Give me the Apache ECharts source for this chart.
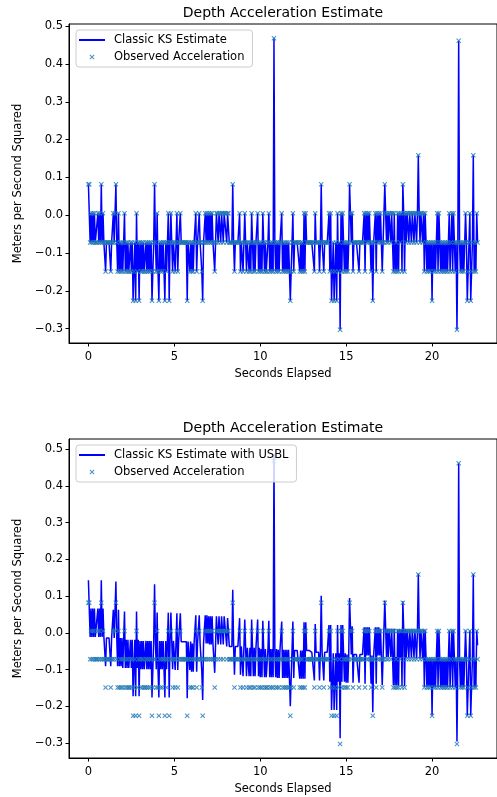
<!DOCTYPE html>
<html><head><meta charset="utf-8">
<script src="https://cdn.jsdelivr.net/npm/echarts@6/dist/echarts.min.js"></script>
<style>html,body{margin:0;padding:0;background:#fff}#chart{width:497px;height:797px}</style>
</head><body><div id="chart"></div>
<script>
// Sampling of the recorded series (seconds)
const sampleStart = 0;
const sampleStep = 0.05;

// Observed depth acceleration (m/s^2), one value per sample
const observedAccel = [
0.082,0.082,-0.072,0.005,-0.072,0.005,-0.072,0.005,-0.072,-0.072,-0.072,0.005,-0.072,0.005,-0.072,0.082,-0.072,0.005,-0.072,-0.072,
-0.149,-0.072,-0.072,-0.072,-0.072,-0.072,-0.149,-0.072,-0.072,0.005,-0.072,0.005,0.082,-0.072,-0.149,0.005,-0.149,-0.072,-0.149,-0.072,
-0.149,-0.072,0.005,-0.149,-0.072,-0.149,-0.072,-0.149,-0.149,-0.072,-0.149,-0.072,-0.226,-0.149,-0.072,-0.226,0.005,-0.149,-0.072,-0.226,
-0.072,-0.149,-0.072,-0.149,-0.072,-0.149,-0.149,-0.072,-0.149,-0.072,-0.149,-0.072,-0.149,-0.072,-0.226,-0.149,-0.072,0.082,-0.072,-0.149,
0.005,-0.149,-0.226,-0.072,-0.149,-0.072,-0.149,-0.072,-0.072,-0.226,-0.072,-0.149,-0.072,0.005,-0.226,-0.072,0.005,-0.072,-0.149,-0.072,
-0.072,-0.149,-0.072,0.005,-0.149,-0.072,-0.072,0.005,-0.072,-0.072,-0.072,-0.072,-0.072,-0.072,-0.072,-0.226,-0.072,-0.072,-0.149,-0.072,
-0.149,-0.072,-0.149,-0.072,-0.072,0.005,-0.149,-0.072,-0.072,0.005,-0.072,-0.072,-0.149,-0.226,-0.072,-0.072,0.005,-0.072,0.005,-0.072,
0.005,-0.072,0.005,-0.072,0.005,-0.072,-0.072,-0.149,-0.072,0.005,0.005,-0.072,0.005,0.005,-0.072,0.005,0.005,-0.072,0.005,0.005,
0.005,-0.072,0.005,0.005,-0.072,-0.072,-0.072,-0.072,0.082,-0.072,-0.149,-0.072,-0.072,-0.072,-0.072,-0.072,0.005,-0.149,-0.072,-0.072,
-0.149,-0.072,0.005,-0.072,-0.149,-0.072,-0.072,-0.149,-0.072,-0.149,0.005,-0.072,-0.149,-0.072,-0.149,-0.072,-0.072,0.005,-0.149,-0.072,
-0.149,-0.072,-0.149,0.005,-0.072,-0.149,-0.072,-0.149,-0.149,-0.072,0.005,-0.149,-0.072,-0.149,-0.072,-0.149,0.468,-0.072,-0.149,-0.072,
-0.149,-0.072,-0.149,-0.072,-0.072,0.005,-0.149,-0.072,-0.149,-0.072,-0.149,-0.072,-0.149,-0.072,-0.149,-0.226,-0.149,-0.072,0.005,-0.149,
-0.072,-0.072,-0.072,-0.072,-0.072,-0.072,-0.149,-0.072,-0.149,-0.072,-0.149,0.005,-0.149,0.005,-0.072,-0.072,-0.072,-0.072,-0.072,-0.072,
-0.072,-0.072,-0.072,-0.149,0.005,-0.072,-0.072,-0.072,-0.072,-0.149,-0.072,0.082,-0.072,-0.072,-0.149,-0.072,-0.072,-0.072,-0.072,-0.072,
0.005,-0.149,0.005,-0.226,-0.149,-0.072,-0.226,-0.149,-0.072,-0.226,0.005,-0.149,-0.072,-0.303,0.005,-0.149,0.005,-0.072,-0.149,-0.072,
-0.149,-0.072,-0.149,-0.072,0.082,0.005,-0.072,0.005,-0.149,-0.072,-0.072,-0.072,-0.072,-0.072,-0.072,-0.149,-0.072,-0.072,-0.072,-0.072,
-0.072,0.005,-0.149,0.005,-0.072,0.005,-0.072,0.005,-0.072,-0.149,-0.072,-0.226,-0.072,-0.072,0.005,-0.149,0.005,-0.072,0.005,-0.072,
0.005,-0.072,-0.149,-0.072,-0.072,0.082,0.005,-0.072,0.005,-0.072,0.005,0.005,-0.072,0.005,0.005,-0.149,0.005,-0.149,-0.072,-0.149,
0.005,-0.149,0.005,-0.072,0.005,-0.149,0.082,0.005,-0.149,0.005,-0.072,0.005,0.005,-0.072,0.005,0.005,-0.072,0.005,0.005,-0.072,
0.005,0.005,-0.072,0.005,0.159,0.005,-0.072,0.005,0.005,-0.072,0.005,-0.149,0.005,-0.072,-0.149,-0.072,-0.149,-0.072,-0.149,-0.072,
-0.226,-0.072,-0.149,-0.072,-0.149,-0.072,0.005,-0.149,0.005,-0.072,-0.149,-0.072,-0.149,-0.072,-0.149,-0.072,-0.149,-0.072,-0.149,-0.072,
0.005,-0.149,-0.072,0.005,-0.149,0.005,-0.072,-0.149,-0.072,-0.303,-0.072,0.462,-0.072,-0.149,-0.072,-0.149,-0.072,-0.149,-0.072,0.005,
-0.072,-0.226,-0.149,-0.072,0.005,-0.226,-0.149,-0.072,0.159,-0.149,-0.072,-0.149,0.005,-0.072
];

// Classic KS estimate (follows the observations)
const ksEstimate = observedAccel;

// Classic KS estimate with USBL, one value per sample
const usblEstimate = [
0.143,0.143,-0.011,0.066,-0.011,0.066,-0.011,0.066,-0.011,-0.011,-0.011,0.066,-0.011,0.066,-0.011,0.143,-0.011,0.066,-0.011,-0.011,
-0.091,-0.014,-0.014,-0.014,-0.014,-0.014,-0.091,-0.014,-0.014,0.063,-0.014,0.063,0.140,-0.014,-0.091,0.063,-0.091,-0.014,-0.091,-0.014,
-0.096,-0.019,0.058,-0.096,-0.019,-0.096,-0.019,-0.096,-0.096,-0.019,-0.096,-0.019,-0.173,-0.096,-0.019,-0.173,0.058,-0.096,-0.019,-0.173,
-0.022,-0.099,-0.022,-0.099,-0.022,-0.099,-0.099,-0.022,-0.099,-0.022,-0.099,-0.022,-0.099,-0.022,-0.176,-0.099,-0.022,0.132,-0.022,-0.099,
0.055,-0.099,-0.176,-0.022,-0.099,-0.022,-0.099,-0.022,-0.022,-0.176,-0.022,-0.099,-0.022,0.055,-0.176,-0.022,0.055,-0.022,-0.099,-0.022,
-0.024,-0.101,-0.024,0.053,-0.101,-0.024,-0.024,0.053,-0.024,-0.024,-0.024,-0.024,-0.024,-0.024,-0.024,-0.178,-0.024,-0.024,-0.101,-0.024,
-0.106,-0.029,-0.106,-0.029,-0.029,0.048,-0.106,-0.029,-0.029,0.048,-0.029,-0.029,-0.106,-0.183,-0.029,-0.029,0.048,-0.029,0.048,-0.029,
0.045,-0.032,0.045,-0.032,0.045,-0.032,-0.032,-0.109,-0.032,0.045,0.045,-0.032,0.045,0.045,-0.032,0.045,0.045,-0.032,0.045,0.045,
0.040,-0.037,0.040,0.040,-0.037,-0.037,-0.037,-0.037,0.117,-0.037,-0.114,-0.037,-0.037,-0.037,-0.037,-0.037,0.040,-0.114,-0.037,-0.037,
-0.118,-0.041,0.036,-0.041,-0.118,-0.041,-0.041,-0.118,-0.041,-0.118,0.036,-0.041,-0.118,-0.041,-0.118,-0.041,-0.041,0.036,-0.118,-0.041,
-0.121,-0.044,-0.121,0.033,-0.044,-0.121,-0.044,-0.121,-0.121,-0.044,0.033,-0.121,-0.044,-0.121,-0.044,-0.121,0.488,-0.044,-0.121,-0.044,
-0.123,-0.046,-0.123,-0.046,-0.046,0.031,-0.123,-0.046,-0.123,-0.046,-0.123,-0.046,-0.123,-0.046,-0.123,-0.200,-0.123,-0.046,0.031,-0.123,
-0.048,-0.048,-0.048,-0.048,-0.048,-0.048,-0.125,-0.048,-0.125,-0.048,-0.125,0.029,-0.125,0.029,-0.048,-0.048,-0.048,-0.048,-0.048,-0.048,
-0.053,-0.053,-0.053,-0.130,0.024,-0.053,-0.053,-0.053,-0.053,-0.130,-0.053,0.101,-0.053,-0.053,-0.130,-0.053,-0.053,-0.053,-0.053,-0.053,
0.021,-0.133,0.021,-0.210,-0.133,-0.056,-0.210,-0.133,-0.056,-0.210,0.021,-0.133,-0.056,-0.287,0.021,-0.133,0.021,-0.056,-0.133,-0.056,
-0.136,-0.059,-0.136,-0.059,0.095,0.018,-0.059,0.018,-0.136,-0.059,-0.059,-0.059,-0.059,-0.059,-0.059,-0.136,-0.059,-0.059,-0.059,-0.059,
-0.062,0.015,-0.139,0.015,-0.062,0.015,-0.062,0.015,-0.062,-0.139,-0.062,-0.216,-0.062,-0.062,0.015,-0.139,0.015,-0.062,0.015,-0.062,
0.011,-0.066,-0.143,-0.066,-0.066,0.088,0.011,-0.066,0.011,-0.066,0.011,0.011,-0.066,0.011,0.011,-0.143,0.011,-0.143,-0.066,-0.143,
0.009,-0.145,0.009,-0.068,0.009,-0.145,0.086,0.009,-0.145,0.009,-0.068,0.009,0.009,-0.068,0.009,0.009,-0.068,0.009,0.009,-0.068,
0.007,0.007,-0.070,0.007,0.161,0.007,-0.070,0.007,0.007,-0.070,0.007,-0.147,0.007,-0.070,-0.147,-0.070,-0.147,-0.070,-0.147,-0.070,
-0.225,-0.071,-0.148,-0.071,-0.148,-0.071,0.006,-0.148,0.006,-0.071,-0.148,-0.071,-0.148,-0.071,-0.148,-0.071,-0.148,-0.071,-0.148,-0.071,
0.006,-0.148,-0.071,0.006,-0.148,0.006,-0.071,-0.148,-0.071,-0.296,-0.071,0.462,-0.071,-0.148,-0.071,-0.148,-0.071,-0.148,-0.071,0.006,
-0.071,-0.225,-0.148,-0.071,0.006,-0.225,-0.148,-0.071,0.160,-0.148,-0.071,-0.148,0.006,-0.034
];

const xTicks = [0, 5, 10, 15, 20];
const yTicks = [-0.3, -0.2, -0.1, 0.0, 0.1, 0.2, 0.3, 0.4, 0.5];
const chartTitle = 'Depth Acceleration Estimate';
const xName = 'Seconds Elapsed';
const yName = 'Meters per Second Squared';
const topLineName = 'Classic KS Estimate';
const bottomLineName = 'Classic KS Estimate with USBL';
const obsName = 'Observed Acceleration';

const FONT = 'DejaVu Sans';
const FS = 11.5;
const times = observedAccel.map((_, i) => +(sampleStart + i * sampleStep).toFixed(2));
const toPairs = vals => vals.map((v, i) => [times[i], v]);

const xMarker = 'path://M0,1.5L1.5,0L5,3.5L8.5,0L10,1.5L6.5,5L10,8.5L8.5,10L5,6.5L1.5,10L0,8.5L3.5,5Z';
const lineIcon = 'path://M0,0L26,0L26,2L0,2Z';
const fmtY = v => { const s = Math.abs(v).toFixed(1); return v < -1e-9 ? '\u2212' + s : s; };

const grids = [
  {left: 69, top: 24, width: 430, height: 319},
  {left: 69, top: 439, width: 430, height: 319}
];
const yRanges = [[-0.338, 0.506], [-0.341, 0.528]];

function xAxis(g) {
  return {
    gridIndex: g, type: 'value', min: -1.13, max: 23.78,
    name: xName, nameLocation: 'middle', nameGap: 25,
    nameTextStyle: {fontFamily: FONT, fontSize: FS, color: '#000'},
    axisLine: {show: true, onZero: false, lineStyle: {color: '#000', width: 1}},
    axisTick: {show: true, length: 3.5, customValues: xTicks, lineStyle: {color: '#000', width: 1}},
    axisLabel: {customValues: xTicks, margin: 8, fontFamily: FONT, fontSize: FS, color: '#000'},
    splitLine: {show: false}
  };
}
function yAxis(g) {
  return {
    gridIndex: g, type: 'value', min: yRanges[g][0], max: yRanges[g][1],
    name: yName, nameLocation: 'middle', nameGap: 40,
    nameTextStyle: {fontFamily: FONT, fontSize: FS, color: '#000'},
    axisLine: {show: true, onZero: false, lineStyle: {color: '#000', width: 1}},
    axisTick: {show: true, length: 3.5, customValues: yTicks, lineStyle: {color: '#000', width: 1}},
    axisLabel: {customValues: yTicks, margin: 6, fontFamily: FONT, fontSize: FS, color: '#000', formatter: fmtY},
    splitLine: {show: false}
  };
}
function legend(g, lineName) {
  return {
    orient: 'vertical', left: 76, top: grids[g].top + 6,
    padding: [4, 8, 4, 3], itemGap: 5, itemWidth: 26, itemHeight: 5,
    backgroundColor: 'rgba(255,255,255,0.8)', borderColor: '#cccccc', borderWidth: 1, borderRadius: 3,
    textStyle: {fontFamily: FONT, fontSize: FS, color: '#000', padding: [0, 0, 0, 4]},
    selectedMode: false,
    data: [{name: lineName, icon: lineIcon}, {name: obsName, icon: xMarker}]
  };
}

const chart = echarts.init(document.getElementById('chart'), null, {renderer: 'canvas'});
chart.setOption({
  backgroundColor: '#ffffff',
  animation: false,
  title: [
    {text: chartTitle, left: 283, top: 6, textAlign: 'center', padding: 0,
     textStyle: {fontFamily: FONT, fontSize: 14, fontWeight: 'normal', color: '#000'}},
    {text: chartTitle, left: 283, top: 421, textAlign: 'center', padding: 0,
     textStyle: {fontFamily: FONT, fontSize: 14, fontWeight: 'normal', color: '#000'}}
  ],
  grid: grids.map(g => Object.assign({show: true, borderColor: '#000', borderWidth: 1, backgroundColor: 'transparent'}, g)),
  xAxis: [xAxis(0), xAxis(1)],
  yAxis: [yAxis(0), yAxis(1)],
  legend: [legend(0, topLineName), legend(1, bottomLineName)],
  series: [
    {name: topLineName, type: 'line', xAxisIndex: 0, yAxisIndex: 0, data: toPairs(ksEstimate),
     symbol: 'none', lineStyle: {color: '#0000ff', width: 1.5}, itemStyle: {color: '#0000ff'}, z: 2},
    {name: obsName, type: 'scatter', xAxisIndex: 0, yAxisIndex: 0, data: toPairs(observedAccel),
     symbol: xMarker, symbolSize: 5, itemStyle: {color: '#1f77b4'}, z: 3},
    {name: bottomLineName, type: 'line', xAxisIndex: 1, yAxisIndex: 1, data: toPairs(usblEstimate),
     symbol: 'none', lineStyle: {color: '#0000ff', width: 1.5}, itemStyle: {color: '#0000ff'}, z: 2},
    {name: obsName, type: 'scatter', xAxisIndex: 1, yAxisIndex: 1, data: toPairs(observedAccel),
     symbol: xMarker, symbolSize: 5, itemStyle: {color: '#1f77b4'}, z: 3}
  ]
});
</script></body></html>
